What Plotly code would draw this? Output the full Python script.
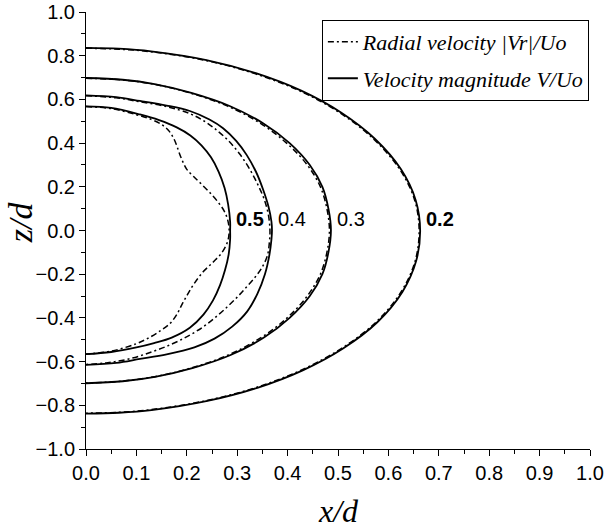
import plotly.graph_objects as go

# Contour levels (labels shown next to the solid curves)
levels = ["0.2", "0.3", "0.4", "0.5"]
level_bold = [True, False, False, True]

# Velocity magnitude V/Uo contours (solid)
V02_x = [0, 0.065, 0.129, 0.239, 0.337, 0.427, 0.506, 0.573, 0.625, 0.654, 0.663, 0.655, 0.628, 0.578, 0.510, 0.430, 0.340, 0.241, 0.130, 0.065, 0]
V02_z = [0.836, 0.832, 0.82, 0.78, 0.72, 0.64, 0.54, 0.42, 0.28, 0.14, 0.0, -0.14, -0.28, -0.42, -0.54, -0.64, -0.72, -0.78, -0.822, -0.834, -0.838]

V03_x = [0, 0.073, 0.136, 0.209, 0.285, 0.352, 0.404, 0.444, 0.469, 0.481, 0.486, 0.481, 0.469, 0.444, 0.404, 0.353, 0.287, 0.211, 0.137, 0.073, 0]
V03_z = [0.698, 0.69, 0.67, 0.63, 0.57, 0.49, 0.40, 0.30, 0.20, 0.10, 0.0, -0.10, -0.20, -0.30, -0.40, -0.49, -0.57, -0.63, -0.67, -0.69, -0.699]

V04_x = [0, 0.06, 0.107, 0.16, 0.206, 0.245, 0.272, 0.298, 0.319, 0.337, 0.351, 0.362, 0.368, 0.369, 0.368, 0.364, 0.355, 0.34, 0.32, 0.29, 0.255, 0.215, 0.16, 0.107, 0.06, 0]
V04_z = [0.618, 0.61, 0.593, 0.572, 0.547, 0.508, 0.468, 0.41, 0.345, 0.27, 0.19, 0.11, 0.04, 0.0, -0.04, -0.11, -0.20, -0.29, -0.37, -0.44, -0.495, -0.535, -0.567, -0.588, -0.606, -0.615]

V05_x = [0, 0.05, 0.107, 0.145, 0.18, 0.207, 0.229, 0.248, 0.263, 0.275, 0.282, 0.286, 0.286, 0.286, 0.283, 0.276, 0.266, 0.252, 0.233, 0.206, 0.17, 0.135, 0.1, 0.05, 0]
V05_z = [0.568, 0.561, 0.531, 0.505, 0.472, 0.435, 0.39, 0.335, 0.27, 0.195, 0.12, 0.04, 0.0, -0.04, -0.11, -0.18, -0.25, -0.32, -0.385, -0.445, -0.49, -0.515, -0.535, -0.556, -0.566]

# Radial velocity |Vr|/Uo contours (dash-dot)
R02_x = [0, 0.065, 0.129, 0.238, 0.335, 0.425, 0.504, 0.571, 0.623, 0.652, 0.661, 0.653, 0.626, 0.576, 0.508, 0.428, 0.338, 0.240, 0.129, 0.065, 0]
R02_z = [0.834, 0.83, 0.818, 0.778, 0.718, 0.638, 0.538, 0.418, 0.278, 0.14, 0.0, -0.14, -0.278, -0.418, -0.538, -0.638, -0.718, -0.778, -0.82, -0.832, -0.836]

R03_x = [0, 0.073, 0.136, 0.207, 0.281, 0.347, 0.398, 0.439, 0.465, 0.478, 0.483, 0.478, 0.465, 0.439, 0.399, 0.348, 0.283, 0.209, 0.136, 0.073, 0]
R03_z = [0.697, 0.689, 0.669, 0.629, 0.569, 0.489, 0.40, 0.30, 0.20, 0.10, 0.0, -0.10, -0.20, -0.30, -0.40, -0.489, -0.569, -0.629, -0.669, -0.689, -0.698]

R04_x = [0, 0.06, 0.107, 0.16, 0.206, 0.235, 0.26, 0.283, 0.305, 0.325, 0.341, 0.354, 0.362, 0.365, 0.364, 0.36, 0.349, 0.335, 0.318, 0.3, 0.28, 0.258, 0.233, 0.205, 0.17, 0.13, 0.085, 0.04, 0]
R04_z = [0.617, 0.607, 0.589, 0.567, 0.535, 0.5, 0.458, 0.41, 0.35, 0.28, 0.21, 0.14, 0.07, 0.0, -0.05, -0.114, -0.17, -0.215, -0.26, -0.305, -0.35, -0.395, -0.44, -0.48, -0.52, -0.556, -0.588, -0.606, -0.613]

R05_x = [0, 0.05, 0.1, 0.13, 0.15, 0.163, 0.172, 0.179, 0.185, 0.192, 0.2, 0.213, 0.23, 0.247, 0.262, 0.274, 0.281, 0.284, 0.281, 0.27, 0.252, 0.232, 0.214, 0.201, 0.19, 0.18, 0.167, 0.15, 0.128, 0.1, 0.05, 0]
R05_z = [0.567, 0.558, 0.53, 0.508, 0.485, 0.46, 0.43, 0.395, 0.355, 0.315, 0.28, 0.248, 0.21, 0.17, 0.13, 0.09, 0.05, 0.0, -0.05, -0.1, -0.145, -0.19, -0.245, -0.295, -0.34, -0.385, -0.425, -0.455, -0.487, -0.518, -0.552, -0.565]

V_x = [V02_x, V03_x, V04_x, V05_x]
V_z = [V02_z, V03_z, V04_z, V05_z]
R_x = [R02_x, R03_x, R04_x, R05_x]
R_z = [R02_z, R03_z, R04_z, R05_z]


def join(parts):
    out = []
    for p in parts:
        out += list(p) + [None]
    return out


fig = go.Figure()

fig.add_trace(go.Scatter(
    x=join(V_x), y=join(V_z), mode="lines",
    line=dict(color="black", width=1.8, shape="spline", smoothing=1.0),
    name="<i>Velocity magnitude V/Uo</i>", legendrank=2, legendgroup="v",
    hoverinfo="skip",
))
fig.add_trace(go.Scatter(
    x=join(R_x), y=join(R_z), mode="lines",
    line=dict(color="black", width=1.5, dash="6px,3px,2px,3px", shape="spline", smoothing=1.0),
    name="<i>Radial velocity |Vr|/Uo</i>", legendrank=1, legendgroup="r",
    hoverinfo="skip",
))

annotations = []
for lab, bold, xs in zip(levels, level_bold, V_x):
    annotations.append(dict(
        x=max(xs), y=0.0, xref="x", yref="y",
        text=f"<b>{lab}</b>" if bold else lab, showarrow=False,
        xanchor="left", yanchor="middle", xshift=4, yshift=12,
        font=dict(family="Liberation Sans", size=20, color="black"),
    ))

annotations.append(dict(
    x=0.5, y=-0.141, xref="paper", yref="paper", text="<i>x/d</i>", showarrow=False,
    xanchor="center", yanchor="middle",
    font=dict(family="Liberation Serif", size=32, color="black"),
))
annotations.append(dict(
    x=-0.13, y=0.52, xref="paper", yref="paper", text="<i>z/d</i>", showarrow=False,
    xanchor="center", yanchor="middle", textangle=-90,
    font=dict(family="Liberation Serif", size=34, color="black"),
))

axis_common = dict(
    showline=True, linecolor="black", linewidth=1, mirror=False,
    ticks="outside", ticklen=6, tickwidth=1, tickcolor="black",
    showgrid=False, zeroline=False, tickformat=".1f", automargin=False,
    tickfont=dict(family="Liberation Sans", size=20, color="black"),
)

fig.update_layout(
    width=605, height=529,
    margin=dict(l=86, r=15, t=12, b=80, autoexpand=False),
    paper_bgcolor="white", plot_bgcolor="white",
    xaxis=dict(range=[0, 1], tick0=0, dtick=0.1,
               minor=dict(dtick=0.05, ticks="outside", ticklen=4, tickcolor="black"),
               **axis_common),
    yaxis=dict(range=[-1, 1], tick0=-1, dtick=0.2,
               minor=dict(dtick=0.1, ticks="outside", ticklen=4, tickcolor="black"),
               **axis_common),
    legend=dict(
        x=0.468, y=0.982, xanchor="left", yanchor="top",
        bordercolor="black", borderwidth=1, bgcolor="white",
        font=dict(family="Liberation Serif", size=22, color="black"),
        itemwidth=30, tracegroupgap=5, traceorder="grouped",
    ),
    annotations=annotations,
    showlegend=True,
)

# remove the default 8px page margin so the 605x529 figure fills the window
fig.write_html(
    "out.html",
    config={"displayModeBar": False},
    post_script="document.body.style.margin='0';document.body.style.overflow='hidden';",
)
